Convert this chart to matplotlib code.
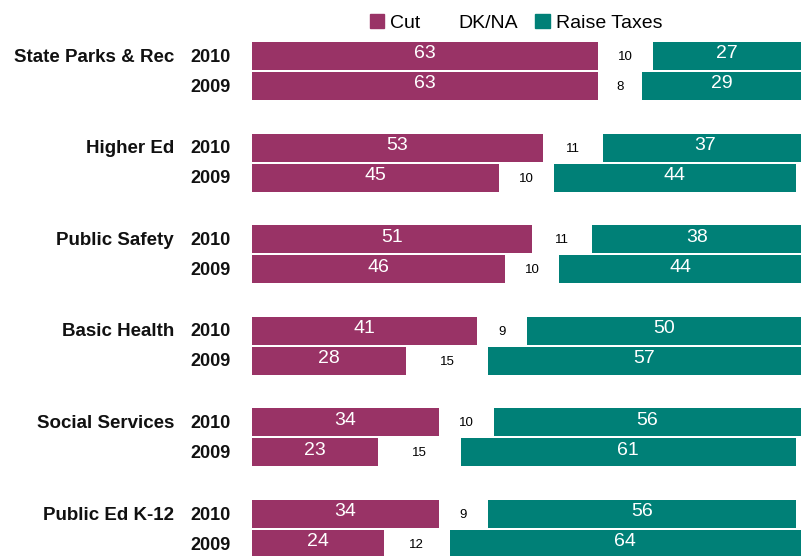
import numpy as np
import matplotlib
matplotlib.use("Agg")
import matplotlib.pyplot as plt
from matplotlib.patches import Patch

plt.rcParams['font.family'] = ['Liberation Sans', 'DejaVu Sans']

# data
categories = ["State Parks & Rec", "Higher Ed", "Public Safety",
              "Basic Health", "Social Services", "Public Ed K-12"]
years = ["2010", "2009"]
cut = [[63, 63], [53, 45], [51, 46], [41, 28], [34, 23], [34, 24]]
dkna = [[10, 8], [11, 10], [11, 10], [9, 15], [10, 15], [9, 12]]
raise_taxes = [[27, 29], [37, 44], [38, 44], [50, 57], [56, 61], [56, 64]]

c_cut = "#993366"
c_raise = "#008077"

fig = plt.figure(figsize=(8.03, 5.56), dpi=100)
ax = fig.add_axes([252 / 803, 0, 549 / 803, 1])
ax.set_xlim(0, 100)
ax.set_ylim(556, 0)
ax.axis("off")

group_step = 91.6
row_step = 30
bar_h = 28
top = 56

for g, cat in enumerate(categories):
    for k, yr in enumerate(years):
        y = top + g * group_step + k * row_step
        c, d, r = cut[g][k], dkna[g][k], raise_taxes[g][k]
        ax.barh(y, c, height=bar_h, left=0, color=c_cut)
        ax.barh(y, r, height=bar_h, left=c + d, color=c_raise)
        ax.text(c / 2, y - 2, str(c), color="white", ha="center", va="center", fontsize=14)
        ax.text(c + d / 2, y + 1, str(d), color="black", ha="center", va="center", fontsize=9.5)
        ax.text(c + d + r / 2, y - 2, str(r), color="white", ha="center", va="center", fontsize=14)
        fig.text(231 / 803, 1 - (y + 1) / 556, yr, ha="right", va="center",
                 fontsize=13, fontweight="bold", color="#111111")
    fig.text(174 / 803, 1 - (top + g * group_step + 1) / 556, cat, ha="right", va="center",
             fontsize=13.5, fontweight="bold", color="#111111")

handles = [Patch(color=c_cut), Patch(color="white"), Patch(color=c_raise)]
fig.legend(handles, ["Cut", "DK/NA", "Raise Taxes"], loc="center",
           bbox_to_anchor=(516 / 803, 1 - 23 / 556), ncol=3, frameon=False,
           fontsize=14, handlelength=0.75, handleheight=0.75, handletextpad=0.3,
           columnspacing=0.9)

fig.savefig("out.png", dpi=100)
